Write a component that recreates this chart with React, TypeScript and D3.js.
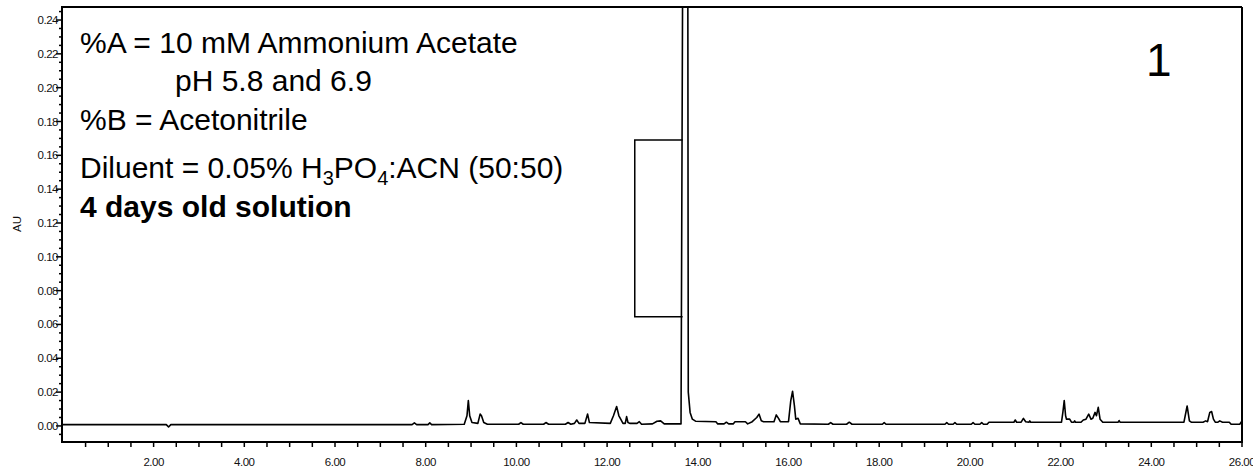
import React from "react";
import * as d3 from "d3";

// Retention time (min) and absorbance (AU)
const times: number[] = [
  0.0, 2.28, 2.33, 2.38, 7.7, 7.75, 7.8, 8.05, 8.09, 8.13, 8.85, 8.91, 8.94, 8.97, 9.02,
  9.15, 9.2, 9.23, 9.28, 9.36, 10.05, 10.1, 10.15, 10.6, 10.65, 10.71, 11.08, 11.14, 11.2,
  11.28, 11.33, 11.38, 11.51, 11.57, 11.61, 12.07, 12.14, 12.21, 12.26, 12.3, 12.35, 12.4,
  12.43, 12.46, 12.5, 12.66, 12.71, 12.76, 13.0, 13.1, 13.18, 13.26, 13.63, 13.665, 13.78,
  13.79, 13.83, 13.88, 13.95, 14.4, 14.44, 14.58, 14.63, 14.68, 14.78, 14.82, 15.05, 15.1,
  15.2, 15.3, 15.35, 15.4, 15.45, 15.68, 15.73, 15.78, 15.82, 16.0, 16.05, 16.09, 16.13,
  16.16, 16.21, 16.26, 16.88, 16.93, 16.98, 17.28, 17.34, 17.4, 18.07, 18.11, 18.15, 19.45,
  19.49, 19.53, 19.63, 19.67, 19.71, 20.03, 20.07, 20.11, 20.22, 20.26, 20.3, 20.38, 20.42,
  20.97, 21.0, 21.03, 21.13, 21.18, 21.23, 21.3, 21.32, 21.34, 22.02, 22.05, 22.08, 22.11,
  22.13, 22.2, 22.24, 22.29, 22.31, 22.33, 22.45, 22.5, 22.56, 22.62, 22.67, 22.71, 22.76,
  22.79, 22.83, 22.87, 22.93, 23.27, 23.29, 23.31, 24.72, 24.79, 24.84, 24.88, 25.14, 25.2,
  25.24, 25.29, 25.33, 25.37, 25.41, 25.47, 25.51, 25.57, 25.72, 25.76, 25.95, 26.0,
];
const absorbance: number[] = [
  0.0008, 0.0008, -0.0006, 0.0008, 0.0008, 0.0018, 0.0008, 0.0008, 0.0018, 0.0008, 0.001,
  0.006, 0.015, 0.006, 0.002, 0.0015, 0.007, 0.006, 0.002, 0.001, 0.001, 0.002, 0.001, 0.001,
  0.002, 0.001, 0.001, 0.002, 0.001, 0.0015, 0.0035, 0.0015, 0.0015, 0.007, 0.002, 0.0015,
  0.006, 0.0115, 0.006, 0.004, 0.0015, 0.0015, 0.0055, 0.002, 0.0015, 0.0015, 0.0025, 0.001,
  0.0012, 0.0028, 0.003, 0.0012, 0.0012, 0.26, 0.26, 0.02, 0.008, 0.004, 0.0028, 0.0025,
  0.0012, 0.0012, 0.0022, 0.0012, 0.0012, 0.0025, 0.0025, 0.0012, 0.0025, 0.005, 0.007,
  0.003, 0.0025, 0.0025, 0.0065, 0.0045, 0.0025, 0.0025, 0.015, 0.0205, 0.012, 0.004, 0.0045,
  0.0012, 0.001, 0.002, 0.001, 0.001, 0.0022, 0.001, 0.001, 0.002, 0.001, 0.001, 0.002, 0.001,
  0.001, 0.002, 0.001, 0.001, 0.002, 0.001, 0.001, 0.002, 0.001, 0.001, 0.0022, 0.0022,
  0.0035, 0.0022, 0.0022, 0.0045, 0.0025, 0.0022, 0.003, 0.0022, 0.0022, 0.008, 0.015, 0.006,
  0.004, 0.004, 0.0022, 0.0022, 0.003, 0.0022, 0.0022, 0.0035, 0.004, 0.007, 0.004, 0.0045,
  0.008, 0.006, 0.011, 0.004, 0.0022, 0.0022, 0.0032, 0.0022, 0.0022, 0.0118, 0.003, 0.0022,
  0.0022, 0.003, 0.0025, 0.008, 0.0085, 0.004, 0.0022, 0.0022, 0.003, 0.0022, 0.0022, 0.001,
  0.001, 0.003,
];

// Integration box drawn next to the main peak
const boxTimes: number[] = [12.61, 13.665];
const boxLevels: number[] = [0.0645, 0.169];

const yMajorTicks: number[] = [0, 0.02, 0.04, 0.06, 0.08, 0.1, 0.12, 0.14, 0.16, 0.18, 0.2, 0.22, 0.24];
const xMajorTicks: number[] = [2, 4, 6, 8, 10, 12, 14, 16, 18, 20, 22, 24, 26];

const yAxisTitle = "AU";
const peakLabel = "1";

const W = 1253;
const H = 469;
const L = 62;
const R = 1242;
const T = 7;
const B = 442;

const FONT = "'Liberation Sans', Arial, sans-serif";

export default function App() {
  const x = d3.scaleLinear().domain([-0.02, 26]).range([L, R]);
  const y = d3.scaleLinear().domain([-0.0095, 0.2477]).range([B, T]);

  const pts: [number, number][] = times.map((t, i) => [t, absorbance[i]]);
  const line = d3
    .line<[number, number]>()
    .x((d) => x(d[0]))
    .y((d) => y(d[1]));

  const yMinor = d3.range(-0.005, 0.2451, 0.005).filter(
    (v) => !yMajorTicks.some((m) => Math.abs(m - v) < 1e-6)
  );
  const xMinor = d3.range(0.5, 26.01, 0.5);

  const [b0, b1] = boxTimes;
  const [lo, hi] = boxLevels;
  const boxPath = `M${x(b1)},${y(hi)}L${x(b0)},${y(hi)}L${x(b0)},${y(lo)}L${x(b1)},${y(lo)}`;

  return (
    <svg
      width={W}
      height={H}
      style={{ position: "absolute", left: 0, top: 0, background: "#fff" }}
      fontFamily={FONT}
    >
      <defs>
        <clipPath id="plotclip">
          <rect x={L} y={T} width={R - L} height={B - T} />
        </clipPath>
      </defs>
      <rect x={0} y={0} width={W} height={H} fill="#fff" />

      {/* trace */}
      <g clipPath="url(#plotclip)">
        <path d={line(pts) || ""} fill="none" stroke="#000" strokeWidth={1.6} strokeLinejoin="round" />
        <path d={boxPath} fill="none" stroke="#000" strokeWidth={1.5} />
      </g>

      {/* frame */}
      <line x1={L} x2={R} y1={T} y2={T} stroke="#000" strokeWidth={2} />
      <line x1={R} x2={R} y1={T} y2={B} stroke="#000" strokeWidth={2} />
      <line x1={L} x2={L} y1={T - 1} y2={B + 1} stroke="#000" strokeWidth={2} />
      <line x1={L - 1} x2={R + 1} y1={B} y2={B} stroke="#000" strokeWidth={2} />

      {/* y ticks */}
      {yMinor.map((v) => (
        <line key={"ym" + v} x1={L - 3} x2={L} y1={y(v)} y2={y(v)} stroke="#000" strokeWidth={1.5} />
      ))}
      {yMajorTicks.map((v) => (
        <g key={"yM" + v}>
          <line x1={L - 6} x2={L} y1={y(v)} y2={y(v)} stroke="#000" strokeWidth={1.5} />
          <text
            x={L - 4}
            y={y(v)}
            dy="0.35em"
            textAnchor="end"
            fontSize={11.5}
            letterSpacing={-0.5}
            fill="#111"
          >
            {v.toFixed(2)}
          </text>
        </g>
      ))}

      {/* x ticks */}
      {xMinor.map((v) => (
        <line key={"xm" + v} x1={x(v)} x2={x(v)} y1={B} y2={B + 5} stroke="#000" strokeWidth={1.5} />
      ))}
      {xMajorTicks.map((v) => (
        <text
          key={"xl" + v}
          x={x(v)}
          y={B + 24}
          textAnchor="middle"
          fontSize={11.5}
          letterSpacing={-0.5}
          fill="#111"
        >
          {v.toFixed(2)}
        </text>
      ))}

      <text
        transform={`translate(21,${224}) rotate(-90)`}
        textAnchor="middle"
        fontSize={11.5}
        fill="#111"
      >
        {yAxisTitle}
      </text>

      {/* annotations */}
      <g fontSize={30} fill="#000">
        <text x={80} y={53}>%A = 10 mM Ammonium Acetate</text>
        <text x={175} y={91}>pH 5.8 and 6.9</text>
        <text x={80} y={130}>%B = Acetonitrile</text>
        <text x={80} y={178}>
          Diluent = 0.05% H
          <tspan fontSize={20} dy={7}>3</tspan>
          <tspan dy={-7}>PO</tspan>
          <tspan fontSize={20} dy={7}>4</tspan>
          <tspan dy={-7}>:ACN (50:50)</tspan>
        </text>
        <text x={80} y={217} fontWeight="bold">4 days old solution</text>
      </g>
      <text x={1146} y={76} fontSize={46} fill="#000">{peakLabel}</text>
    </svg>
  );
}
